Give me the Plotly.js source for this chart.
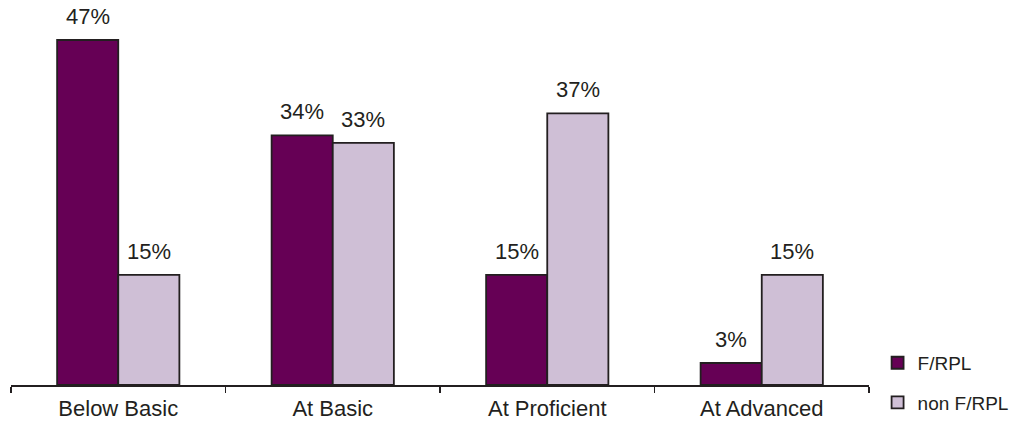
<!DOCTYPE html>
<html>
<head>
<meta charset="utf-8">
<script src="https://cdn.plot.ly/plotly-3.0.1.min.js"></script>
<style>
  html, body { margin: 0; padding: 0; background: #ffffff; }
  #chart { width: 1016px; height: 426px; }
</style>
</head>
<body>
<div id="chart"></div>
<script>
// Achievement levels and the share of students at each level
const levels = ['Below Basic', 'At Basic', 'At Proficient', 'At Advanced'];
const frplShare = [47, 34, 15, 3];
const nonFrplShare = [15, 33, 37, 15];
const seriesNames = ['F/RPL', 'non F/RPL'];

const darkPurple = '#660055';
const lightLilac = '#CFBFD6';
const edge = '#231F20';
const fontFamily = 'Liberation Sans, Arial, sans-serif';
const labelFont = { family: fontFamily, size: 22, color: '#231F20' };

const traces = [
  {
    type: 'bar', name: seriesNames[0], x: levels, y: frplShare,
    legendgroup: 'a',
    marker: { color: darkPurple, line: { color: edge, width: 1.8 } },
    hoverinfo: 'skip'
  },
  {
    type: 'bar', name: seriesNames[1], x: levels, y: nonFrplShare,
    legendgroup: 'b',
    marker: { color: lightLilac, line: { color: edge, width: 1.8 } },
    hoverinfo: 'skip'
  }
];

// Value labels above each bar, offset left/right to sit over the grouped bars
const annotations = [];
[frplShare, nonFrplShare].forEach(function (vals, s) {
  vals.forEach(function (v, i) {
    annotations.push({
      x: levels[i], y: v, xref: 'x', yref: 'y',
      text: v + '%', showarrow: false,
      xshift: s === 0 ? -30.5 : 30.5, yshift: 9,
      yanchor: 'bottom', font: labelFont
    });
  });
});

const layout = {
  width: 1016, height: 426,
  margin: { l: 11, r: 147, t: 18, b: 41, autoexpand: false },
  paper_bgcolor: '#ffffff', plot_bgcolor: '#ffffff',
  barmode: 'group', bargap: 0.43, bargroupgap: 0,
  showlegend: true,
  legend: {
    x: 1.01, xanchor: 'left', y: 0.112, yanchor: 'top',
    font: { family: fontFamily, size: 19, color: '#231F20' },
    tracegroupgap: 12, traceorder: 'grouped', bgcolor: 'rgba(0,0,0,0)',
    borderwidth: 0
  },
  xaxis: {
    type: 'category', tickson: 'boundaries', automargin: false,
    ticks: 'outside', ticklen: 6, tickwidth: 1.5, tickcolor: edge,
    showline: true, linecolor: edge, linewidth: 1.5,
    showgrid: false, zeroline: false,
    tickfont: labelFont, ticklabelstandoff: 3
  },
  yaxis: {
    range: [0, 50], visible: false, showgrid: false, zeroline: false
  },
  annotations: annotations
};

Plotly.newPlot('chart', traces, layout, { displayModeBar: false, staticPlot: true });
</script>
</body>
</html>
